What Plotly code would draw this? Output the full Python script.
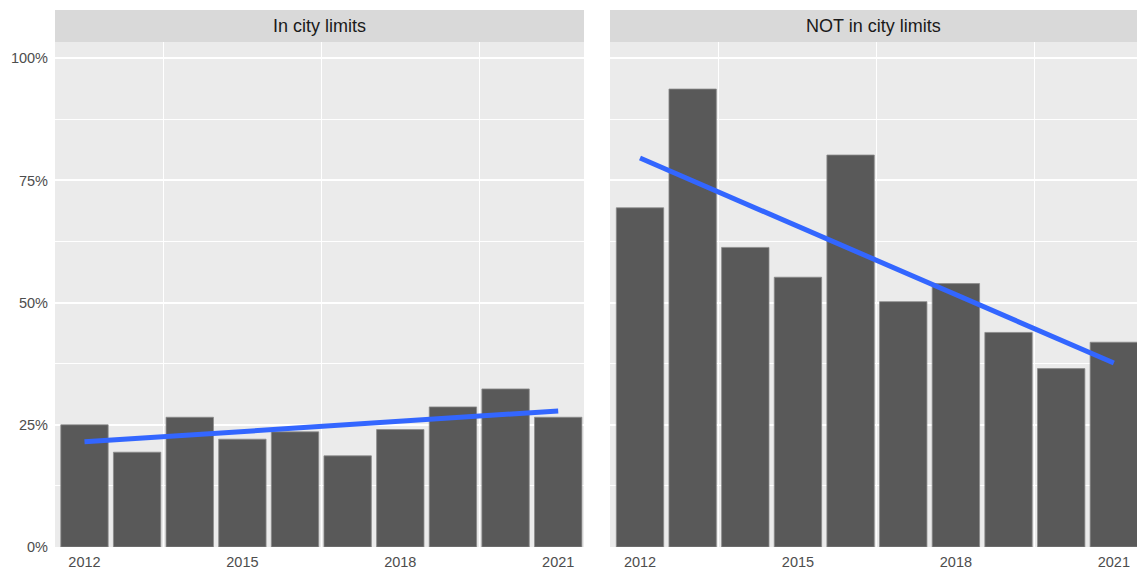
import numpy as np
import plotly.graph_objects as go

years = [2012, 2013, 2014, 2015, 2016, 2017, 2018, 2019, 2020, 2021]
in_city = [0.250, 0.194, 0.2655, 0.2206, 0.2356, 0.1865, 0.2403, 0.2866, 0.3234, 0.2655]
not_in_city = [0.694, 0.937, 0.613, 0.552, 0.802, 0.502, 0.539, 0.439, 0.365, 0.419]
panels = ["In city limits", "NOT in city limits"]
x_ticks = [2012, 2015, 2018, 2021]
y_ticks = [0, 0.25, 0.5, 0.75, 1.0]
y_labels = ["0%", "25%", "50%", "75%", "100%"]

FONT = "Liberation Sans, Arial, sans-serif"
BAR = "#595959"
LINE = "#3366FF"
PANEL_BG = "#EBEBEB"
STRIP_BG = "#D9D9D9"

fig = go.Figure()
series = [in_city, not_in_city]
axes = [("x", "y"), ("x2", "y2")]
for vals, (xa, ya) in zip(series, axes):
    fig.add_trace(go.Bar(x=years, y=vals, width=0.9, marker=dict(color=BAR, line=dict(color="#8a8a8a", width=0.8)),
                         xaxis=xa, yaxis=ya, showlegend=False, hoverinfo="x+y"))
    slope, intercept = np.polyfit(years, vals, 1)
    xs = np.array([years[0], years[-1]], dtype=float)
    fig.add_trace(go.Scatter(x=xs, y=slope * xs + intercept, mode="lines",
                             line=dict(color=LINE, width=5), xaxis=xa, yaxis=ya, showlegend=False))

W, H = 1137, 569
ml, mr, mt, mb = 55, 0, 42, 22
pw = W - ml - mr
ph = H - mt - mb
left_end = (584 - ml) / pw
right_start = (610 - ml) / pw
strip_top = 1 + 32 / ph

xcommon = dict(tickmode="array", tickvals=x_ticks, ticktext=[str(t) for t in x_ticks], showgrid=False,
               zeroline=False, showline=False, ticks="", ticklabelstandoff=4,
               tickfont=dict(family=FONT, size=14.5, color="#4D4D4D"),
               minor=dict(tickmode="array", tickvals=[2013.5, 2016.5, 2019.5], showgrid=True, gridcolor="white", gridwidth=1, ticks=""))
ycommon = dict(range=[0, 1.0333], tickmode="array", tickvals=y_ticks, ticktext=y_labels, showgrid=True,
               gridcolor="white", gridwidth=1.6, zeroline=False, showline=False, ticks="", ticklabelstandoff=6,
               tickfont=dict(family=FONT, size=14.5, color="#4D4D4D"),
               minor=dict(tickmode="array", tickvals=[0.125, 0.375, 0.625, 0.875], showgrid=True, gridcolor="white", gridwidth=0.9, ticks=""))

fig.update_layout(
    width=W, height=H,
    margin=dict(l=ml, r=mr, t=mt, b=mb, pad=0),
    paper_bgcolor="white", plot_bgcolor=PANEL_BG,
    bargap=0.1,
    xaxis=dict(domain=[0, left_end], range=[2011.44, 2021.49], anchor="y", **xcommon),
    xaxis2=dict(domain=[right_start, 1], range=[2011.43, 2021.44], anchor="y2", **xcommon),
    yaxis=dict(domain=[0, 1], anchor="x", showticklabels=True, **ycommon),
    yaxis2=dict(domain=[0, 1], anchor="x2", showticklabels=False, **ycommon),
    font=dict(family=FONT),
)

for i, (title, xa) in enumerate(zip(panels, ["x", "x2"])):
    fig.add_shape(type="rect", xref=f"{xa} domain", yref="paper", x0=0, x1=1, y0=1, y1=strip_top,
                  fillcolor=STRIP_BG, line=dict(width=0), layer="below")
    fig.add_annotation(text=title, xref=f"{xa} domain", yref="paper", x=0.5, y=(1 + strip_top) / 2,
                       showarrow=False, xanchor="center", yanchor="middle",
                       font=dict(family=FONT, size=18, color="#1A1A1A"))

fig.write_html("out.html", config={"displayModeBar": False},
               post_script="document.body.style.margin='0px';document.body.style.overflow='hidden';")
